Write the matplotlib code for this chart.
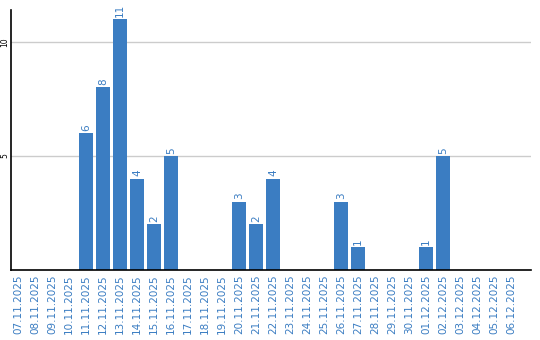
import matplotlib
matplotlib.use("Agg")
import matplotlib.pyplot as plt

dates = ["07.11.2025", "08.11.2025", "09.11.2025", "10.11.2025", "11.11.2025",
         "12.11.2025", "13.11.2025", "14.11.2025", "15.11.2025", "16.11.2025",
         "17.11.2025", "18.11.2025", "19.11.2025", "20.11.2025", "21.11.2025",
         "22.11.2025", "23.11.2025", "24.11.2025", "25.11.2025", "26.11.2025",
         "27.11.2025", "28.11.2025", "29.11.2025", "30.11.2025", "01.12.2025",
         "02.12.2025", "03.12.2025", "04.12.2025", "05.12.2025", "06.12.2025"]
counts = [0, 0, 0, 0, 6, 8, 11, 4, 2, 5, 0, 0, 0, 3, 2, 4, 0, 0, 0, 3, 1,
          0, 0, 0, 1, 5, 0, 0, 0, 0]
yticks = [5, 10]

blue = "#3b7dc2"

fig = plt.figure(figsize=(5.4, 3.4), dpi=100)
ax = fig.add_axes([0.0204, 0.206, 0.963, 0.765])

x = list(range(len(dates)))
bars = ax.bar(x, counts, width=0.82, color=blue, zorder=2)
for b, v in zip(bars, counts):
    if v > 0:
        ax.text(b.get_x() + b.get_width() / 2, v + 0.1, str(v), rotation=90,
                ha="center", va="bottom", color=blue, fontsize=7.5)

ax.set_xlim(-0.41, 30.18)
ax.set_ylim(0, 11.4)
ax.set_xticks(x)
ax.set_xticklabels(dates, rotation=90, color=blue, fontsize=7.5)
ax.set_yticks(yticks)
ax.set_yticklabels([str(t) for t in yticks], rotation=90, va="center", fontsize=5.5)
ax.tick_params(axis="x", length=0, pad=3)
ax.tick_params(axis="y", length=0, pad=1)
ax.yaxis.grid(True, color="#cccccc", linewidth=1, zorder=0)
ax.set_axisbelow(True)
for s in ["top", "right"]:
    ax.spines[s].set_visible(False)
ax.spines["left"].set_linewidth(1.2)
ax.spines["bottom"].set_linewidth(1.2)

fig.savefig("out.png", dpi=100)
